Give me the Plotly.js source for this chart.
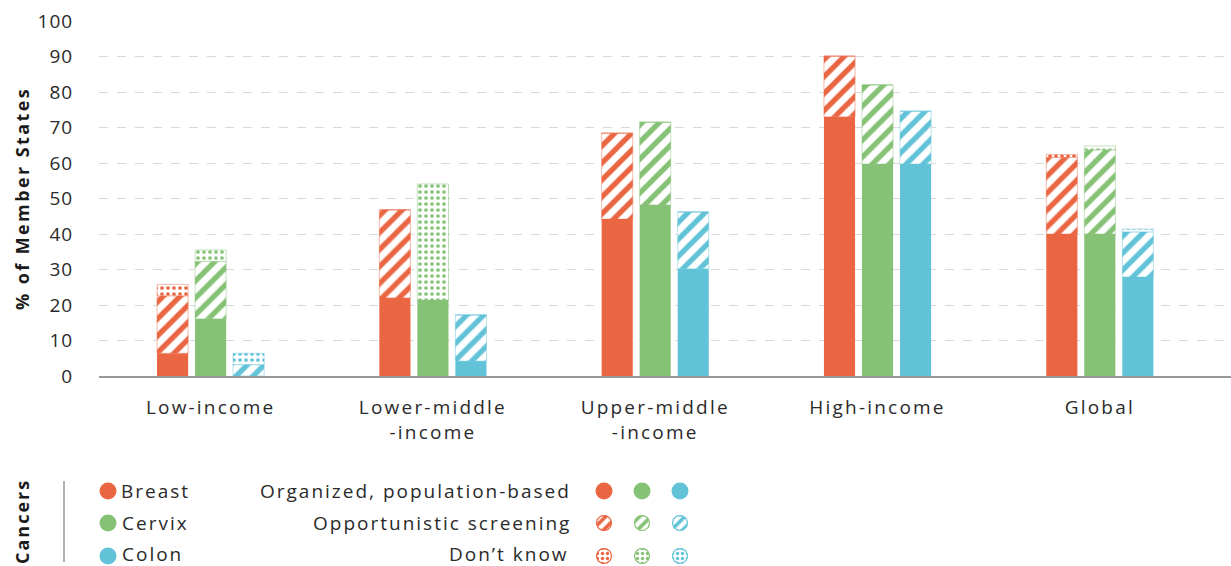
<!DOCTYPE html>
<html><head><meta charset="utf-8">
<script src="https://cdn.plot.ly/plotly-3.0.1.min.js"></script>
<style>
body{margin:0;background:#fff}#chart{width:1231px;height:566px}
#chart .xtick text{letter-spacing:2.2px}
#chart .ytick text{letter-spacing:1px}
#chart .ytitle{letter-spacing:2.4px}
#chart .annotation-text{letter-spacing:2px}
</style>
</head><body><div id="chart"></div>
<script>
// ---- data ----
const categories = ["Low-income", "Lower-middle<br>-income", "Upper-middle<br>-income", "High-income", "Global"];
const cancers = ["Breast", "Cervix", "Colon"];
const screeningTypes = ["Organized, population-based", "Opportunistic screening", "Don\u2019t know"];
// values per segment (% of Member States)
const breastOrganized     = [6.4, 22.0, 44.2, 73.0, 40.0];
const breastOpportunistic = [16.2, 24.8, 24.2, 17.1, 21.6];
const breastDontKnow      = [3.2, 0, 0, 0, 0.8];
const cervixOrganized     = [16.1, 21.4, 48.2, 59.7, 40.0];
const cervixOpportunistic = [16.2, 0, 23.3, 22.3, 23.7];
const cervixDontKnow      = [3.2, 32.7, 0, 0, 1.1];
const colonOrganized      = [0, 4.2, 30.2, 59.7, 27.9];
const colonOpportunistic  = [3.2, 13.0, 16.0, 14.9, 12.7];
const colonDontKnow       = [3.2, 0, 0, 0, 0.8];
const yTicks = [0,10,20,30,40,50,60,70,80,90,100];

// ---- styles ----
const colors = {Breast:"#EA6643", Cervix:"#86C276", Colon:"#62C3D8"};
const light = {Breast:"rgba(234,102,67,0.45)", Cervix:"rgba(134,194,118,0.45)", Colon:"rgba(98,195,216,0.45)"};
const offsets = {Breast:-0.241, Cervix:-0.07, Colon:0.101};
const barW = 0.14;
const FONT = "Open Sans, Lato, sans-serif";
const TXT = "#2a2a2a";
const series = {
  Breast:[breastOrganized, breastOpportunistic, breastDontKnow],
  Cervix:[cervixOrganized, cervixOpportunistic, cervixDontKnow],
  Colon:[colonOrganized, colonOpportunistic, colonDontKnow]
};

const traces = [];
cancers.forEach(c => {
  const [org, opp, dk] = series[c];
  const baseOpp = org.slice();
  const baseDk = org.map((v,i)=>v+opp[i]);
  const common = {type:"bar", x:categories, width:barW, offset:offsets[c], showlegend:false, hoverinfo:"y"};
  traces.push(Object.assign({}, common, {y:org, base:0, marker:{color:colors[c], line:{width:0}}}));
  traces.push(Object.assign({}, common, {y:opp, base:baseOpp, marker:{color:"white",
    line:{width:1, color:light[c]},
    pattern:{shape:"/", fgcolor:colors[c], bgcolor:"white", size:12, solidity:0.45, fillmode:"replace"}}}));
  traces.push(Object.assign({}, common, {y:dk, base:baseDk, marker:{color:"white",
    line:{width:1, color:light[c]},
    pattern:{shape:".", fgcolor:colors[c], bgcolor:"white", size:6, solidity:0.3, fillmode:"replace"}}}));
});

// ---- legend drawn on a helper pixel-axis ----
function circlePts(cx, cy, r){
  const xs=[], ys=[];
  for(let k=0;k<=40;k++){const a=2*Math.PI*k/40; xs.push(cx+r*Math.cos(a)); ys.push(cy+r*Math.sin(a));}
  return {xs, ys};
}
const legRowY = [491, 523, 556];
const legColX = [604, 642, 680];
traces.push({type:"scatter", mode:"markers", xaxis:"x2", yaxis:"y2", x:[108,108,108], y:legRowY,
  marker:{size:17, color:cancers.map(c=>colors[c])}, showlegend:false, hoverinfo:"skip"});
cancers.forEach((c, j) => {
  traces.push({type:"scatter", mode:"markers", xaxis:"x2", yaxis:"y2", x:[legColX[j]], y:[legRowY[0]],
    marker:{size:17, color:colors[c]}, showlegend:false, hoverinfo:"skip"});
  [["/",1,8,0.45],[".",2,5,0.35]].forEach(([shape,row,sz,sol]) => {
    const p = circlePts(legColX[j], legRowY[row], 7.5);
    traces.push({type:"scatter", mode:"lines", xaxis:"x2", yaxis:"y2", x:p.xs, y:p.ys, fill:"toself",
      fillcolor:"white", line:{color:colors[c], width:1.2},
      fillpattern:{shape:shape, fgcolor:colors[c], bgcolor:"white", size:sz, solidity:sol, fillmode:"replace"},
      showlegend:false, hoverinfo:"skip"});
  });
});

const annotations = [
  {xref:"x2", yref:"y2", x:22, y:522, text:"<b>Cancers</b>", textangle:-90, showarrow:false,
    font:{family:FONT, size:18, color:"#1a1a1a"}},
];
const rowTextY = [491, 523, 554];
const cancerTextX = [155, 155, 152];
const typeTextX = [415, 442, 509];
cancers.forEach((c,i)=>annotations.push({xref:"x2", yref:"y2", x:cancerTextX[i], y:rowTextY[i], xanchor:"center",
  text:c, showarrow:false, borderpad:0, font:{family:FONT, size:19, color:TXT}}));
screeningTypes.forEach((t,i)=>annotations.push({xref:"x2", yref:"y2", x:typeTextX[i], y:rowTextY[i], xanchor:"center",
  text:t, showarrow:false, borderpad:0, font:{family:FONT, size:19, color:TXT}}));

const layout = {
  width:1231, height:566,
  margin:{l:0, r:0, t:21, b:0},
  paper_bgcolor:"white", plot_bgcolor:"white",
  barmode:"overlay", showlegend:false,
  font:{family:FONT, color:TXT},
  xaxis:{domain:[99/1231, 1], type:"category", range:[-0.502, 4.59], showgrid:false,
    showline:true, linecolor:"#9a9a9a", linewidth:2, ticks:"outside", ticklen:13, tickcolor:"rgba(0,0,0,0)",
    tickfont:{family:FONT, size:19, color:TXT}, zeroline:false, anchor:"y", fixedrange:true},
  yaxis:{domain:[190/545, 1], range:[0, 100], tickvals:yTicks, showgrid:true, gridcolor:"#d9d9d9",
    griddash:"dash", gridwidth:1, zeroline:false, showline:false, ticks:"outside", ticklen:21,
    tickcolor:"rgba(0,0,0,0)", tickfont:{family:FONT, size:19, color:TXT}, anchor:"x",
    title:{text:"<b>% of Member States</b>", font:{family:FONT, size:18, color:"#1a1a1a"}, standoff:6}},
  xaxis2:{domain:[0,1], range:[0,1231], visible:false, fixedrange:true, anchor:"y2"},
  yaxis2:{domain:[0, 100/545], range:[566, 466], visible:false, fixedrange:true, anchor:"x2"},
  shapes:[{type:"line", xref:"x2", yref:"y2", x0:64, x1:64, y0:481, y1:562, line:{color:"#999", width:1.5}}],
  annotations:annotations
};
Plotly.newPlot("chart", traces, layout, {staticPlot:true});
</script></body></html>
